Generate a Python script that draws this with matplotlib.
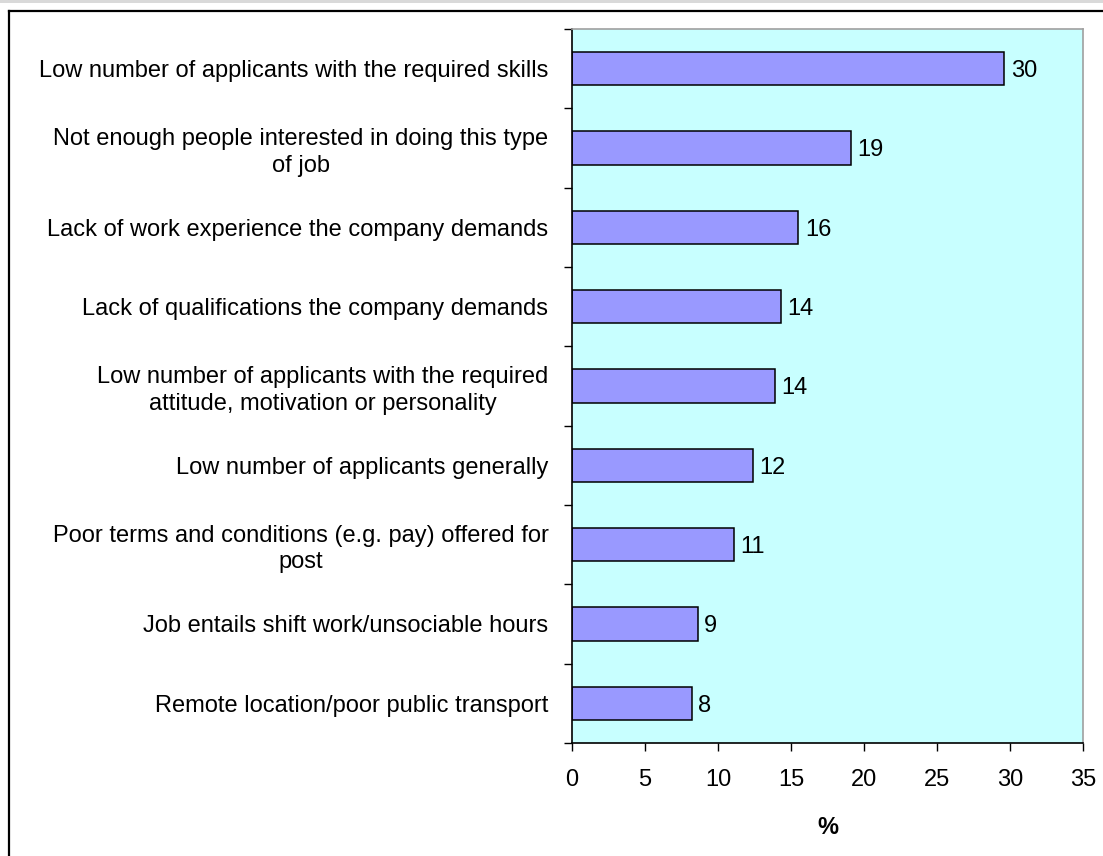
import matplotlib

matplotlib.use("Agg")
import matplotlib.pyplot as plt
from matplotlib.lines import Line2D
from matplotlib.patches import Rectangle

plt.rcParams["font.family"] = ["Liberation Sans", "DejaVu Sans"]

reasons = [
    "Low number of applicants with the required skills",
    "Not enough people interested in doing this type\nof job",
    "Lack of work experience the company demands",
    "Lack of qualifications the company demands",
    "Low number of applicants with the required\nattitude, motivation or personality",
    "Low number of applicants generally",
    "Poor terms and conditions (e.g. pay) offered for\npost",
    "Job entails shift work/unsociable hours",
    "Remote location/poor public transport",
]
percent = [29.6, 19.1, 15.5, 14.3, 13.9, 12.4, 11.1, 8.6, 8.2]
x_ticks = [0, 5, 10, 15, 20, 25, 30, 35]

FS = 17
W, H = 1103, 856
fig = plt.figure(figsize=(W / 100, H / 100), dpi=100)
fig.patch.set_facecolor("white")

# strip left over from the page above the chart
fig.add_artist(Rectangle((0, 1 - 3 / H), 1, 3 / H, transform=fig.transFigure,
                         facecolor="#d9d9d9", edgecolor="none"))
# chart frame (only the top and left edges fall inside the canvas)
fig.add_artist(Line2D([8.5 / W, 1], [1 - 10.5 / H, 1 - 10.5 / H],
                      transform=fig.transFigure, color="black", linewidth=1.6))
fig.add_artist(Line2D([8.5 / W, 8.5 / W], [0, 1 - 10.5 / H],
                      transform=fig.transFigure, color="black", linewidth=1.6))

left, right, top, bottom = 572 / W, 1083 / W, 1 - 29 / H, 1 - 743 / H
ax = fig.add_axes([left, bottom, right - left, top - bottom])
ax.set_facecolor("#c8ffff")

n = len(reasons)
pos = list(range(n))
ax.barh(pos, percent, height=0.42, color="#9999ff", edgecolor="black", linewidth=1.1)
for y, v in zip(pos, percent):
    ax.text(v + 0.45, y, f"{v:.0f}", va="center_baseline", ha="left", fontsize=FS)

ax.set_xlim(0, 35)
ax.set_ylim(n - 0.5, -0.5)
ax.set_xticks(x_ticks)
ax.set_xticklabels([str(t) for t in x_ticks], fontsize=FS)
ax.set_yticks(pos)
ax.set_yticklabels(reasons, fontsize=FS, multialignment="center", linespacing=1.25)
ax.tick_params(axis="y", length=0, pad=17)
ax.set_yticks([i - 0.5 for i in range(n + 1)], minor=True)
ax.tick_params(axis="y", which="minor", length=6, width=1, color="black")
ax.tick_params(axis="x", length=6, width=1, pad=13)

ax.set_xlabel("%", fontsize=FS, fontweight="bold", labelpad=18)

for side in ("top", "right"):
    ax.spines[side].set_color("#a0a0a0")
    ax.spines[side].set_linewidth(1.2)
for side in ("left", "bottom"):
    ax.spines[side].set_color("black")
    ax.spines[side].set_linewidth(1.2)

fig.savefig("out.png", dpi=100)
